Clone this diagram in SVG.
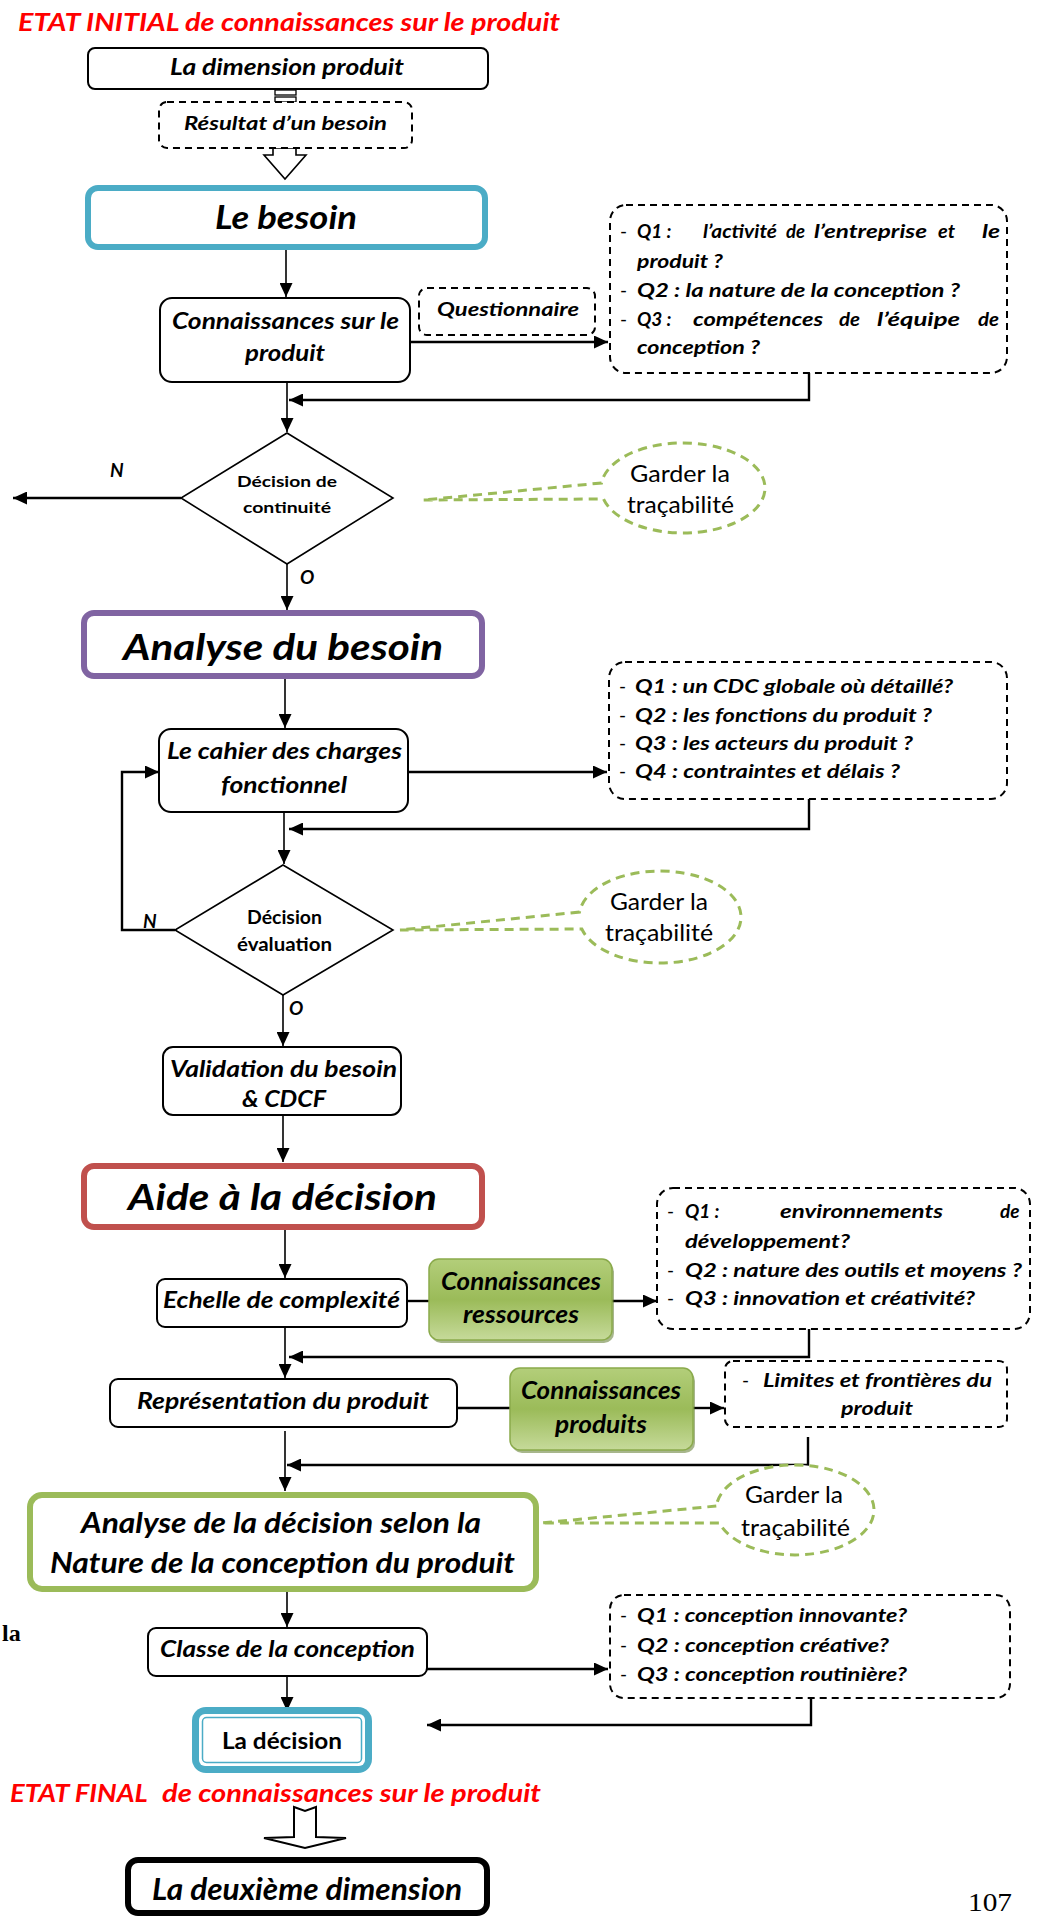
<svg xmlns="http://www.w3.org/2000/svg" width="1042" height="1917" viewBox="0 0 1042 1917">
<style>
.t{font-family:Lato,"Liberation Sans",sans-serif;font-weight:700;font-style:italic;fill:#000}
.tn{font-family:Lato,"Liberation Sans",sans-serif;font-weight:700;font-style:normal;fill:#000}
.tr{font-family:Lato,"Liberation Sans",sans-serif;font-weight:400;font-style:normal;fill:#000}
.red{fill:#FF0000}
.q{font-size:19px}
.box{fill:#fff;stroke:#000;stroke-width:2}
.dbox{fill:#fff;stroke:#000;stroke-width:2;stroke-dasharray:7 5}
.call{fill:#fff;stroke:#9BBB59;stroke-width:3;stroke-dasharray:9 6}
.ln{fill:none;stroke:#000;stroke-width:1.6}
.lw{fill:none;stroke:#000;stroke-width:2.4}
.gb{fill:url(#gg);stroke:#8AAA4B;stroke-width:1.5}
.gs{fill:#5F7A2E;opacity:0.55}
.serif{font-family:"Liberation Serif",serif;fill:#000}
</style>
<defs>
<marker id="ah" markerUnits="userSpaceOnUse" markerWidth="15" markerHeight="13" refX="14" refY="6.5" orient="auto"><path d="M0,0 L14,6.5 L0,13 z" fill="#000"/></marker>
<linearGradient id="gg" x1="0" y1="0" x2="0" y2="1"><stop offset="0" stop-color="#B3CE7A"/><stop offset="0.5" stop-color="#9BBB59"/><stop offset="1" stop-color="#C6DA9A"/></linearGradient>
</defs>
<rect width="1042" height="1917" fill="#fff"/>

<text class="t red" x="18" y="31" font-size="25" textLength="542" lengthAdjust="spacingAndGlyphs">ETAT INITIAL de connaissances sur le produit</text>

<g id="connectors">
<rect x="275" y="90" width="21" height="5" fill="#fff" stroke="#000" stroke-width="1.3"/>
<rect x="275" y="97" width="21" height="5" fill="#fff" stroke="#000" stroke-width="1.3"/>
<polygon points="273,148 273,155 264,155 285,179 306,155 296,155 296,148" fill="#fff" stroke="#000" stroke-width="1.6"/>
<line class="ln" x1="286" y1="250" x2="286" y2="297" marker-end="url(#ah)"/>
<line class="lw" x1="410" y1="342" x2="608" y2="342" marker-end="url(#ah)"/>
<polyline class="lw" points="809,373 809,400 289,400" marker-end="url(#ah)"/>
<line class="ln" x1="287" y1="382" x2="287" y2="432" marker-end="url(#ah)"/>
<line class="lw" x1="181" y1="498" x2="13" y2="498" marker-end="url(#ah)"/>
<line class="ln" x1="287" y1="564" x2="287" y2="610" marker-end="url(#ah)"/>
<line class="ln" x1="285" y1="679" x2="285" y2="728" marker-end="url(#ah)"/>
<line class="lw" x1="408" y1="772" x2="607" y2="772" marker-end="url(#ah)"/>
<polyline class="lw" points="809,799 809,829 289,829" marker-end="url(#ah)"/>
<line class="ln" x1="284" y1="812" x2="284" y2="864" marker-end="url(#ah)"/>
<polyline class="lw" points="175,930 122,930 122,772 159,772" marker-end="url(#ah)"/>
<line class="ln" x1="283" y1="995" x2="283" y2="1046" marker-end="url(#ah)"/>
<line class="ln" x1="283" y1="1115" x2="283" y2="1162" marker-end="url(#ah)"/>
<line class="ln" x1="285" y1="1229" x2="285" y2="1278" marker-end="url(#ah)"/>
<line class="lw" x1="407" y1="1301" x2="429" y2="1301"/>
<line class="lw" x1="612" y1="1301" x2="657" y2="1301" marker-end="url(#ah)"/>
<polyline class="lw" points="809,1329 809,1357 289,1357" marker-end="url(#ah)"/>
<line class="ln" x1="285" y1="1327" x2="285" y2="1378" marker-end="url(#ah)"/>
<line class="lw" x1="457" y1="1408" x2="510" y2="1408"/>
<line class="lw" x1="693" y1="1408" x2="724" y2="1408" marker-end="url(#ah)"/>
<polyline class="lw" points="808,1437 808,1465 287,1465" marker-end="url(#ah)"/>
<line class="ln" x1="285" y1="1431" x2="285" y2="1491" marker-end="url(#ah)"/>
<line class="ln" x1="287" y1="1592" x2="287" y2="1627" marker-end="url(#ah)"/>
<line class="lw" x1="427" y1="1669" x2="608" y2="1669" marker-end="url(#ah)"/>
<polyline class="lw" points="811,1698 811,1725 427,1725" marker-end="url(#ah)"/>
<line class="ln" x1="287" y1="1676" x2="287" y2="1711" marker-end="url(#ah)"/>
<polygon points="294,1807 305,1811 316,1807 316,1837 346,1838 305,1848 264,1838 294,1837" fill="#fff" stroke="#000" stroke-width="2"/>
</g>

<g id="n-dimension">
<rect class="box" x="88" y="48" width="400" height="41" rx="7"/>
<text class="t" x="170" y="75" font-size="22" textLength="234" lengthAdjust="spacingAndGlyphs">La dimension produit</text>
</g>
<g id="n-resultat">
<rect class="dbox" x="159" y="102" width="253" height="46" rx="8"/>
<text class="t" x="184" y="130" font-size="19" textLength="203" lengthAdjust="spacingAndGlyphs">Résultat d’un besoin</text>
</g>
<g id="n-besoin">
<rect x="88" y="188" width="397" height="59" rx="10" fill="#fff" stroke="#4BACC6" stroke-width="6"/>
<text class="t" x="215" y="229" font-size="33" textLength="142" lengthAdjust="spacingAndGlyphs">Le besoin</text>
</g>
<g id="n-connaissances">
<rect class="box" x="160" y="298" width="250" height="84" rx="12"/>
<text class="t" x="172" y="329" font-size="22" textLength="227" lengthAdjust="spacingAndGlyphs">Connaissances sur le</text>
<text class="t" x="245" y="361" font-size="22" textLength="80" lengthAdjust="spacingAndGlyphs">produit</text>
</g>
<g id="n-questionnaire">
<rect class="dbox" x="419" y="288" width="176" height="47" rx="8"/>
<text class="t" x="437" y="316" font-size="19" textLength="142" lengthAdjust="spacingAndGlyphs">Questionnaire</text>
</g>
<g id="n-q1">
<rect class="dbox" x="610" y="205" width="397" height="168" rx="16"/>
<text class="tr q" x="620" y="238">-</text>
<text class="t q" y="238"><tspan x="637">Q1 :</tspan><tspan x="703" textLength="74" lengthAdjust="spacingAndGlyphs">l’activité</tspan><tspan x="786" textLength="19" lengthAdjust="spacingAndGlyphs">de</tspan><tspan x="814" textLength="113" lengthAdjust="spacingAndGlyphs">l’entreprise</tspan><tspan x="938" textLength="17" lengthAdjust="spacingAndGlyphs">et</tspan><tspan x="982" textLength="18" lengthAdjust="spacingAndGlyphs">le</tspan></text>
<text class="t q" x="637" y="268" textLength="86" lengthAdjust="spacingAndGlyphs">produit ?</text>
<text class="tr q" x="620" y="297">-</text>
<text class="t q" x="637" y="297" textLength="323" lengthAdjust="spacingAndGlyphs">Q2 : la nature de la conception ?</text>
<text class="tr q" x="620" y="326">-</text>
<text class="t q" y="326"><tspan x="637">Q3 :</tspan><tspan x="693" textLength="130" lengthAdjust="spacingAndGlyphs">compétences</tspan><tspan x="839" textLength="21" lengthAdjust="spacingAndGlyphs">de</tspan><tspan x="877" textLength="83" lengthAdjust="spacingAndGlyphs">l’équipe</tspan><tspan x="978" textLength="21" lengthAdjust="spacingAndGlyphs">de</tspan></text>
<text class="t q" x="637" y="354" textLength="123" lengthAdjust="spacingAndGlyphs">conception ?</text>
</g>
<g id="n-decision1">
<polygon points="287,433 393,498 287,564 181,498" fill="#fff" stroke="#000" stroke-width="1.6"/>
<text class="tn" x="237" y="487" font-size="16" textLength="100" lengthAdjust="spacingAndGlyphs">Décision de</text>
<text class="tn" x="243" y="513" font-size="16" textLength="88" lengthAdjust="spacingAndGlyphs">continuité</text>
<text class="t" x="110" y="477" font-size="19">N</text>
<text class="t" x="300" y="584" font-size="19">O</text>
</g>
<g id="n-trace1">
<path class="call" d="M601.5,483 L423,500 L603.5,499 A82,45 0 1 0 601.5,483 Z"/>
<text class="tr" x="630" y="482" font-size="23" textLength="100" lengthAdjust="spacingAndGlyphs">Garder la</text>
<text class="tr" x="627" y="513" font-size="23" textLength="107" lengthAdjust="spacingAndGlyphs">traçabilité</text>
</g>
<g id="n-analyse">
<rect x="84" y="613" width="398" height="63" rx="10" fill="#fff" stroke="#8064A2" stroke-width="6"/>
<text class="t" x="123" y="660" font-size="37" textLength="320" lengthAdjust="spacingAndGlyphs">Analyse du besoin</text>
</g>
<g id="n-cahier">
<rect class="box" x="159" y="729" width="249" height="83" rx="12"/>
<text class="t" x="167" y="759" font-size="22" textLength="235" lengthAdjust="spacingAndGlyphs">Le cahier des charges</text>
<text class="t" x="221" y="793" font-size="22" textLength="126" lengthAdjust="spacingAndGlyphs">fonctionnel</text>
</g>
<g id="n-q2">
<rect class="dbox" x="609" y="662" width="398" height="137" rx="16"/>
<text class="tr q" x="619" y="693">-</text>
<text class="t q" x="635" y="693" textLength="318" lengthAdjust="spacingAndGlyphs">Q1 : un CDC globale où détaillé?</text>
<text class="tr q" x="619" y="722">-</text>
<text class="t q" x="635" y="722" textLength="297" lengthAdjust="spacingAndGlyphs">Q2 : les fonctions du produit ?</text>
<text class="tr q" x="619" y="750">-</text>
<text class="t q" x="635" y="750" textLength="278" lengthAdjust="spacingAndGlyphs">Q3 : les acteurs du produit ?</text>
<text class="tr q" x="619" y="778">-</text>
<text class="t q" x="635" y="778" textLength="265" lengthAdjust="spacingAndGlyphs">Q4 : contraintes et délais ?</text>
</g>
<g id="n-decision2">
<polygon points="283,865 393,930 283,995 175,930" fill="#fff" stroke="#000" stroke-width="1.6"/>
<text class="tn" x="247" y="924" font-size="18" textLength="75" lengthAdjust="spacingAndGlyphs">Décision</text>
<text class="tn" x="237" y="951" font-size="18" textLength="95" lengthAdjust="spacingAndGlyphs">évaluation</text>
<text class="t" x="143" y="928" font-size="19">N</text>
<text class="t" x="289" y="1015" font-size="19">O</text>
</g>
<g id="n-trace2">
<path class="call" d="M579.5,912 L400,930 L581.8,929 A81,46 0 1 0 579.5,912 Z"/>
<text class="tr" x="610" y="910" font-size="23" textLength="98" lengthAdjust="spacingAndGlyphs">Garder la</text>
<text class="tr" x="605" y="941" font-size="23" textLength="108" lengthAdjust="spacingAndGlyphs">traçabilité</text>
</g>
<g id="n-validation">
<rect class="box" x="163" y="1047" width="238" height="68" rx="10"/>
<text class="t" x="170" y="1077" font-size="22" textLength="227" lengthAdjust="spacingAndGlyphs">Validation du besoin</text>
<text class="t" x="242" y="1107" font-size="22" textLength="84" lengthAdjust="spacingAndGlyphs">&amp; CDCF</text>
</g>
<g id="n-aide">
<rect x="84" y="1166" width="398" height="61" rx="10" fill="#fff" stroke="#C0504D" stroke-width="6"/>
<text class="t" x="128" y="1210" font-size="37" textLength="309" lengthAdjust="spacingAndGlyphs">Aide à la décision</text>
</g>
<g id="n-echelle">
<rect class="box" x="157" y="1279" width="250" height="48" rx="8"/>
<text class="t" x="163" y="1308" font-size="22" textLength="237" lengthAdjust="spacingAndGlyphs">Echelle de complexité</text>
</g>
<g id="n-ressources">
<rect class="gs" x="431" y="1262" width="183" height="81" rx="10"/>
<rect class="gb" x="429" y="1259" width="183" height="81" rx="10"/>
<text class="t" x="441" y="1290" font-size="24" textLength="160" lengthAdjust="spacingAndGlyphs">Connaissances</text>
<text class="t" x="463" y="1323" font-size="24" textLength="116" lengthAdjust="spacingAndGlyphs">ressources</text>
</g>
<g id="n-q3">
<rect class="dbox" x="657" y="1188" width="373" height="141" rx="16"/>
<text class="tr q" x="667" y="1218">-</text>
<text class="t q" y="1218"><tspan x="685">Q1 :</tspan><tspan x="780" textLength="163" lengthAdjust="spacingAndGlyphs">environnements</tspan><tspan x="1000">de</tspan></text>
<text class="t q" x="685" y="1248" textLength="165" lengthAdjust="spacingAndGlyphs">développement?</text>
<text class="tr q" x="667" y="1277">-</text>
<text class="t q" x="685" y="1277" textLength="337" lengthAdjust="spacingAndGlyphs">Q2 : nature des outils et moyens ?</text>
<text class="tr q" x="667" y="1305">-</text>
<text class="t q" x="685" y="1305" textLength="290" lengthAdjust="spacingAndGlyphs">Q3 : innovation et créativité?</text>
</g>
<g id="n-representation">
<rect class="box" x="110" y="1379" width="347" height="48" rx="8"/>
<text class="t" x="137" y="1409" font-size="22" textLength="292" lengthAdjust="spacingAndGlyphs">Représentation du produit</text>
</g>
<g id="n-produits">
<rect class="gs" x="512" y="1371" width="183" height="82" rx="10"/>
<rect class="gb" x="510" y="1368" width="183" height="82" rx="10"/>
<text class="t" x="521" y="1399" font-size="24" textLength="160" lengthAdjust="spacingAndGlyphs">Connaissances</text>
<text class="t" x="555" y="1433" font-size="24" textLength="92" lengthAdjust="spacingAndGlyphs">produits</text>
</g>
<g id="n-q4">
<rect class="dbox" x="725" y="1361" width="282" height="66" rx="8"/>
<text class="tr q" x="742" y="1387">-</text>
<text class="t q" x="763" y="1387" textLength="229" lengthAdjust="spacingAndGlyphs">Limites et frontières du</text>
<text class="t q" x="841" y="1415" textLength="72" lengthAdjust="spacingAndGlyphs">produit</text>
</g>
<g id="n-analyse-decision">
<rect x="30" y="1495" width="506" height="94" rx="12" fill="#fff" stroke="#9BBB59" stroke-width="6"/>
<text class="t" x="81" y="1533" font-size="28" textLength="400" lengthAdjust="spacingAndGlyphs">Analyse de la décision selon la</text>
<text class="t" x="50" y="1573" font-size="28" textLength="465" lengthAdjust="spacingAndGlyphs">Nature de la conception du produit</text>
</g>
<g id="n-trace3">
<path class="call" d="M716.3,1506 L541,1523 L719.4,1523 A79,45 0 1 0 716.3,1506 Z"/>
<text class="tr" x="745" y="1503" font-size="23" textLength="98" lengthAdjust="spacingAndGlyphs">Garder la</text>
<text class="tr" x="741" y="1536" font-size="23" textLength="109" lengthAdjust="spacingAndGlyphs">traçabilité</text>
</g>
<g id="n-classe">
<rect class="box" x="148" y="1628" width="279" height="48" rx="8"/>
<text class="t" x="160" y="1657" font-size="22" textLength="255" lengthAdjust="spacingAndGlyphs">Classe de la conception</text>
</g>
<g id="n-q5">
<rect class="dbox" x="610" y="1595" width="400" height="103" rx="14"/>
<text class="tr q" x="620" y="1622">-</text>
<text class="t q" x="637" y="1622" textLength="270" lengthAdjust="spacingAndGlyphs">Q1 : conception innovante?</text>
<text class="tr q" x="620" y="1652">-</text>
<text class="t q" x="637" y="1652" textLength="252" lengthAdjust="spacingAndGlyphs">Q2 : conception créative?</text>
<text class="tr q" x="620" y="1681">-</text>
<text class="t q" x="637" y="1681" textLength="270" lengthAdjust="spacingAndGlyphs">Q3 : conception routinière?</text>
</g>
<g id="n-la-decision">
<rect x="192" y="1707" width="180" height="66" rx="14" fill="#4BACC6"/>
<rect x="199" y="1714" width="166" height="52" rx="6" fill="#fff"/>
<rect x="202.5" y="1717.5" width="159" height="45" rx="4" fill="#fff" stroke="#4BACC6" stroke-width="1.5"/>
<text class="tn" x="222" y="1749" font-size="23" textLength="120" lengthAdjust="spacingAndGlyphs">La décision</text>
</g>
<text class="t red" y="1802" font-size="25"><tspan x="10" textLength="137" lengthAdjust="spacingAndGlyphs">ETAT FINAL</tspan> <tspan x="162" textLength="379" lengthAdjust="spacingAndGlyphs">de connaissances sur le produit</tspan></text>
<g id="n-deuxieme">
<rect x="128" y="1860" width="359" height="53" rx="10" fill="#fff" stroke="#000" stroke-width="6"/>
<text class="t" x="152" y="1900" font-size="30" textLength="310" lengthAdjust="spacingAndGlyphs">La deuxième dimension</text>
</g>
<text class="serif" x="2" y="1641" font-size="24" font-weight="700">la</text>
<text class="serif" x="968" y="1911" font-size="26" textLength="44" lengthAdjust="spacingAndGlyphs">107</text>
</svg>
